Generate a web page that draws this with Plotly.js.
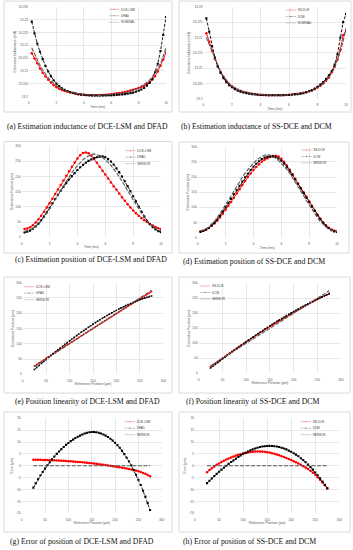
<!DOCTYPE html>
<html>
<head>
<meta charset="utf-8">
<script src="https://cdn.plot.ly/plotly-3.0.1.min.js"></script>
<style>
html,body{margin:0;padding:0;background:#ffffff;}
#chart{width:353px;height:550px;}
</style>
</head>
<body>
<div id="chart"></div>
<script>
// ---------------- DATA ----------------
var timeMs = [0.2,0.4,0.6,0.8,1.0,1.2,1.4,1.6,1.8,2.0,2.2,2.4,2.6,2.8,3.0,3.2,3.4,3.6,3.8,4.0,4.2,4.4,4.6,4.8,5.0,5.2,5.4,5.6,5.8,6.0,6.2,6.4,6.6,6.8,7.0,7.2,7.4,7.6,7.8,8.0,8.2,8.4,8.6,8.8,9.0,9.2,9.4,9.6,9.8,10.0];

// (a) inductance, DCE-LSM / DFAD / nominal
var indDceLsm = [13.2169,13.2149,13.2130,13.2110,13.2093,13.2079,13.2066,13.2055,13.2045,13.2037,13.2031,13.2026,13.2022,13.2019,13.2016,13.2014,13.2012,13.2010,13.2009,13.2008,13.2007,13.2006,13.2006,13.2006,13.2006,13.2007,13.2007,13.2008,13.2009,13.2010,13.2011,13.2013,13.2014,13.2016,13.2018,13.2021,13.2024,13.2027,13.2030,13.2034,13.2038,13.2043,13.2049,13.2057,13.2067,13.2080,13.2098,13.2120,13.2145,13.2172];
var indDfad = [13.2292,13.2246,13.2207,13.2175,13.2146,13.2120,13.2098,13.2080,13.2064,13.2051,13.2041,13.2033,13.2027,13.2022,13.2018,13.2015,13.2012,13.2010,13.2008,13.2007,13.2006,13.2005,13.2004,13.2004,13.2004,13.2004,13.2004,13.2004,13.2005,13.2005,13.2006,13.2007,13.2008,13.2009,13.2010,13.2012,13.2014,13.2016,13.2019,13.2023,13.2028,13.2034,13.2043,13.2053,13.2068,13.2095,13.2128,13.2178,13.2240,13.2310];
var indNominalA = [13.2190,13.2165,13.2142,13.2122,13.2104,13.2088,13.2074,13.2062,13.2052,13.2043,13.2036,13.2030,13.2025,13.2021,13.2018,13.2015,13.2013,13.2011,13.2009,13.2008,13.2007,13.2006,13.2006,13.2005,13.2005,13.2005,13.2006,13.2006,13.2007,13.2008,13.2009,13.2010,13.2011,13.2013,13.2015,13.2018,13.2021,13.2025,13.2029,13.2034,13.2040,13.2047,13.2055,13.2065,13.2077,13.2092,13.2109,13.2129,13.2158,13.2190];

// (b) inductance, SS-DCE / DCM / nominal
var indSsDce = [13.2214,13.2186,13.2156,13.2130,13.2107,13.2088,13.2072,13.2059,13.2049,13.2041,13.2035,13.2030,13.2026,13.2023,13.2021,13.2019,13.2017,13.2016,13.2015,13.2014,13.2013,13.2013,13.2012,13.2012,13.2012,13.2012,13.2012,13.2013,13.2013,13.2014,13.2015,13.2016,13.2017,13.2018,13.2020,13.2022,13.2025,13.2028,13.2032,13.2037,13.2043,13.2050,13.2059,13.2070,13.2087,13.2105,13.2128,13.2160,13.2207,13.2221];
var indDcm = [13.2262,13.2219,13.2172,13.2135,13.2106,13.2085,13.2068,13.2055,13.2045,13.2038,13.2032,13.2027,13.2024,13.2021,13.2019,13.2017,13.2016,13.2015,13.2014,13.2013,13.2013,13.2012,13.2012,13.2012,13.2012,13.2012,13.2012,13.2012,13.2013,13.2013,13.2014,13.2015,13.2016,13.2017,13.2019,13.2022,13.2025,13.2029,13.2034,13.2040,13.2047,13.2055,13.2065,13.2077,13.2091,13.2112,13.2145,13.2200,13.2250,13.2276];
var indNominalB = [13.2200,13.2178,13.2152,13.2128,13.2107,13.2089,13.2073,13.2060,13.2050,13.2042,13.2036,13.2031,13.2027,13.2024,13.2021,13.2019,13.2017,13.2016,13.2015,13.2014,13.2013,13.2013,13.2012,13.2012,13.2012,13.2012,13.2012,13.2013,13.2013,13.2014,13.2015,13.2016,13.2017,13.2018,13.2020,13.2022,13.2025,13.2028,13.2032,13.2037,13.2043,13.2050,13.2059,13.2070,13.2084,13.2102,13.2125,13.2153,13.2188,13.2230];

// (c)/(d) position vs time
var posDceLsm = [27,29,33,40,49,59,71,84,98,112,127,142,157,172,187,202,217,232,246,259,270,277,279,276,268,257,245,232,219,206,193,180,168,156,144,132,120,109,98,88,79,71,63,56,50,44,39,34,30,27];
var posDfad = [16,18,22,28,36,45,56,68,82,97,112,126,140,153,166,178,190,201,211,221,230,238,245,251,256,260,263,265,266,263,257,249,239,227,214,200,184,168,152,135,118,101,84,68,54,43,33,26,20,17];
var posSensorC = [20,21,24,29,36,44,54,66,79,93,108,123,139,155,170,185,199,213,225,236,246,255,262,268,272,274,272,268,262,255,246,236,225,213,199,185,170,155,139,123,108,93,79,66,54,44,36,29,24,21];
var posSsDce = [21,23,27,32,39,47,56,67,79,92,105,118,132,146,160,174,187,200,212,223,233,242,250,257,262,266,269,270,268,260,250,238,224,209,194,179,164,150,135,120,105,90,76,63,51,41,33,27,23,21];
var posDcm = [19,22,26,32,40,49,60,72,86,100,114,128,143,157,171,185,199,211,223,234,244,252,259,264,267,268,268,266,261,254,245,234,221,207,192,177,162,147,132,117,102,88,74,61,49,39,31,25,21,19];
var posSensorD = [21,24,29,36,44,54,66,79,93,108,123,139,155,170,185,199,213,225,236,246,255,262,268,272,274,272,268,262,255,246,236,225,213,199,185,170,155,139,123,108,93,79,66,54,44,36,29,24,21,20];

// (e)-(h) versus reference position
var refPos = [25,30,35,40,45,50,55,60,65,70,75,80,85,90,95,100,105,110,115,120,125,130,135,140,145,150,155,160,165,170,175,180,185,190,195,200,205,210,215,220,225,230,235,240,245,250,255,260,265,270,275];
var linDceLsm = [27.6,32.5,37.5,42.5,47.5,52.5,57.4,62.4,67.4,72.3,77.3,82.2,87.2,92.1,97.0,102.0,106.9,111.8,116.7,121.6,126.6,131.5,136.4,141.3,146.2,151.1,155.9,160.8,165.7,170.6,175.5,180.3,185.2,190.0,194.9,199.7,204.5,209.4,214.2,219.0,223.9,228.7,233.4,238.2,243.0,247.7,252.4,257.0,261.6,266.1,270.6];
var linDfad = [15.8,22.6,29.3,35.9,42.4,48.8,55.2,61.5,67.7,73.9,80.0,86.0,92.0,97.9,103.8,109.6,115.4,121.0,126.7,132.2,137.7,143.2,148.6,153.9,159.1,164.2,169.2,174.1,178.9,183.6,188.2,192.7,197.1,201.4,205.6,209.7,213.7,217.6,221.3,224.9,228.4,231.8,235.1,238.2,241.2,244.1,246.9,249.5,252.0,254.3,256.4];
var linSsDce = [22.3,28.2,34.0,39.7,45.4,51.0,56.6,62.1,67.6,73.1,78.5,83.9,89.3,94.6,99.9,105.2,110.4,115.6,120.8,125.9,131.0,136.1,141.1,146.0,150.9,155.8,160.6,165.3,170.1,174.8,179.4,184.1,188.7,193.3,197.9,202.4,207.0,211.5,216.0,220.4,224.9,229.3,233.6,237.9,242.1,246.2,250.2,254.1,258.0,261.8,265.5];
var linDcm = [17.7,23.7,29.7,35.7,41.6,47.5,53.4,59.2,65.0,70.8,76.6,82.3,88.0,93.7,99.4,105.0,110.5,116.0,121.5,126.9,132.3,137.6,142.9,148.1,153.3,158.4,163.4,168.4,173.3,178.1,182.9,187.6,192.3,196.9,201.4,205.9,210.3,214.7,219.0,223.2,227.4,231.5,235.5,239.5,243.4,247.2,251.0,254.7,258.4,262.0,265.5];
var errDceLsm = [2.55,2.54,2.53,2.51,2.49,2.46,2.43,2.40,2.36,2.32,2.27,2.22,2.16,2.10,2.03,1.96,1.89,1.81,1.73,1.64,1.55,1.46,1.36,1.26,1.16,1.05,0.94,0.82,0.70,0.58,0.45,0.31,0.17,0.02,-0.14,-0.30,-0.46,-0.63,-0.80,-0.97,-1.15,-1.35,-1.56,-1.79,-2.03,-2.30,-2.62,-2.98,-3.38,-3.86,-4.40];
var errDfad = [-9.2,-7.4,-5.7,-4.1,-2.6,-1.2,0.2,1.5,2.7,3.9,5.0,6.0,7.0,7.9,8.8,9.6,10.4,11.0,11.7,12.2,12.7,13.2,13.6,13.9,14.1,14.2,14.2,14.1,13.9,13.6,13.2,12.7,12.1,11.4,10.6,9.7,8.7,7.6,6.3,4.9,3.4,1.8,0.1,-1.8,-3.8,-5.9,-8.1,-10.5,-13.0,-15.7,-18.6];
var errSsDce = [-2.7,-1.8,-1.0,-0.3,0.4,1.0,1.6,2.1,2.6,3.1,3.5,3.9,4.3,4.6,4.9,5.2,5.4,5.6,5.8,5.9,6.0,6.05,6.05,6.0,5.9,5.75,5.55,5.3,5.05,4.75,4.4,4.05,3.7,3.3,2.85,2.4,1.95,1.45,0.95,0.4,-0.15,-0.75,-1.4,-2.1,-2.9,-3.8,-4.8,-5.9,-7.0,-8.2,-9.5];
var errDcm = [-7.3,-6.3,-5.3,-4.3,-3.4,-2.5,-1.6,-0.8,0.0,0.8,1.6,2.3,3.0,3.7,4.4,5.0,5.5,6.0,6.5,6.9,7.3,7.6,7.9,8.1,8.25,8.35,8.4,8.35,8.25,8.1,7.9,7.6,7.3,6.9,6.4,5.9,5.3,4.7,4.0,3.2,2.4,1.5,0.5,-0.5,-1.6,-2.8,-4.0,-5.3,-6.6,-8.0,-9.5];
var sensorRef = [25,275];
var sensorLin = [25,275];
var sensorErr = [0,0];

var captions = [
  "(a) Estimation inductance of DCE-LSM and DFAD",
  "(b) Estimation inductance of SS-DCE and DCM",
  "(c) Estimation position of DCE-LSM and DFAD",
  "(d) Estimation position of SS-DCE and DCM",
  "(e) Position linearity of DCE-LSM and DFAD",
  "(f) Position linearity of SS-DCE and DCM",
  "(g) Error of position of DCE-LSM and DFAD",
  "(h) Error of position of SS-DCE and DCM"
];

// ---------------- LAYOUT HELPERS ----------------
var W = 353, H = 550;
function fx(p){ return p / W; }
function fy(p){ return 1 - p / H; }

var GRID = '#d9d9d9', TXT = '#595959';
var SANS = 'Liberation Sans, Arial, sans-serif';
var LEG_SCALE = 0.34;

var panels = [
  {x0:29,   x1:166,   y0:6.7,   y1:96.7,  xr:[0,10],  xd:2,  yr:[13.2,13.235], yd:0.005, xt:'Time (ms)', yt:'Estimation Inductance (mH)', box:[4,1,172,112],   cap:[5,126.7],   leg:[121,9.3]},
  {x0:203.5,x1:346,   y0:6.7,   y1:99,    xr:[0,10],  xd:2,  yr:[13.2,13.23],  yd:0.005, xt:'Time (ms)', yt:'Estimation Inductance (mH)', box:[179,1,351,112], cap:[179,126.7], leg:[297.7,10]},
  {x0:21.7, x1:161,   y0:146,   y1:237.3, xr:[0,10],  xd:2,  yr:[0,300],       yd:50,    xt:'Time (ms)', yt:'Estimation Position (\u03bcm)', box:[4,141.5,172,253], cap:[13,260], leg:[137.3,150.7]},
  {x0:197.7,x1:337,   y0:146.7, y1:237.7, xr:[0,10],  xd:2,  yr:[0,300],       yd:50,    xt:'Time (ms)', yt:'Estimation Position (\u03bcm)', box:[179,142,349,253], cap:[181,261], leg:[313.3,150]},
  {x0:22.7, x1:163.3, y0:282.7, y1:374.3, xr:[0,300], xd:50, yr:[0,300],       yd:50,    xt:'Reference Position (\u03bcm)', yt:'Estimation Position (\u03bcm)', box:[4,277,172,393], cap:[13,401.7], leg:[36,286.7]},
  {x0:198.7,x1:341,   y0:283.3, y1:373.3, xr:[0,300], xd:50, yr:[0,300],       yd:50,    xt:'Reference Position (\u03bcm)', yt:'Estimation Position (\u03bcm)', box:[179,277,350,393], cap:[184,401], leg:[212,286]},
  {x0:21.7, x1:161.7, y0:418.3, y1:513.3, xr:[0,300], xd:50, yr:[-20,20],      yd:5,     xt:'Reference Position (\u03bcm)', yt:'Error (\u03bcm)', box:[4,412,172,532], cap:[8,541.7], leg:[136.7,421.7]},
  {x0:195,  x1:339.3, y0:418.3, y1:513.3, xr:[0,300], xd:50, yr:[-20,20],      yd:5,     xt:'Reference Position (\u03bcm)', yt:'Error (\u03bcm)', box:[179,412,350,532], cap:[181,541.7], leg:[312.7,421.7]}
];

var layout = {
  width: W, height: H,
  margin: {l:0, r:0, t:0, b:0, pad:0, autoexpand:false},
  paper_bgcolor: '#ffffff', plot_bgcolor: 'rgba(0,0,0,0)',
  showlegend: true,
  font: {family: SANS, color: TXT},
  shapes: [], annotations: []
};

panels.forEach(function(p, i){
  var n = i === 0 ? '' : String(i + 1);
  layout['xaxis' + n] = {
    domain: [fx(p.x0), fx(p.x1)], range: p.xr, dtick: p.xd, tick0: 0,
    anchor: 'y' + n, showgrid: true, gridcolor: GRID, gridwidth: 0.6,
    zeroline: false, showline: false, ticks: '', fixedrange: true,
    ticklabelstandoff: 3,
    tickfont: {size: 3.2, color: TXT, family: SANS},
    title: {text: p.xt, font: {size: 3.4, color: TXT, family: SANS}, standoff: 1}
  };
  layout['yaxis' + n] = {
    domain: [fy(p.y1), fy(p.y0)], range: p.yr, dtick: p.yd, tick0: 0,
    anchor: 'x' + n, showgrid: true, gridcolor: GRID, gridwidth: 0.6,
    zeroline: false, showline: false, ticks: '', fixedrange: true,
    tickfont: {size: 3.2, color: TXT, family: SANS},
    title: {text: p.yt, font: {size: 3.4, color: TXT, family: SANS}, standoff: 2}
  };
  var lid = i === 0 ? 'legend' : 'legend' + (i + 1);
  layout[lid] = {
    x: fx(p.leg[0] - 40 * LEG_SCALE), y: fy(p.leg[1] - 14.5 * LEG_SCALE),
    xanchor: 'left', yanchor: 'top', bgcolor: 'rgba(0,0,0,0)', borderwidth: 0,
    font: {size: 9, family: SANS, color: '#404040'}, itemwidth: 30, tracegroupgap: 0
  };
  layout.shapes.push({type:'rect', xref:'paper', yref:'paper',
    x0: fx(p.box[0]), x1: fx(p.box[2]), y0: fy(p.box[3]), y1: fy(p.box[1]),
    line: {color: '#d0d0d0', width: 0.8}, layer: 'below'});
  layout.annotations.push({xref:'paper', yref:'paper', x: fx(p.cap[0]), y: fy(p.cap[1]),
    xanchor:'left', yanchor:'middle', showarrow:false, text: captions[i],
    font: {family: 'Liberation Serif, Times New Roman, serif', size: 7.8, color: '#111111'}});
});

function mk(x, y, name, i, kind, msize){
  var n = i === 0 ? '' : String(i + 1);
  var t = {x: x, y: y, name: name, type: 'scatter',
    xaxis: 'x' + n, yaxis: 'y' + n, legend: i === 0 ? 'legend' : 'legend' + (i + 1)};
  if (kind === 'red') {
    t.mode = 'lines+markers';
    t.line = {color: '#ff0000', width: 0.9};
    t.marker = {symbol: 'circle', size: msize || 2.5, color: '#ff0000'};
  } else if (kind === 'black') {
    t.mode = 'lines+markers';
    t.line = {color: '#000000', width: 0.9, dash: '3px,1.5px'};
    t.marker = {symbol: 'square', size: msize || 2.1, color: '#000000'};
  } else {
    t.mode = 'lines';
    t.line = {color: '#555555', width: 1.1, dash: '4px,1.5px'};
  }
  return t;
}

var data = [
  mk(timeMs, indDceLsm, 'DCE-LSM', 0, 'red'),
  mk(timeMs, indDfad, 'DFAD', 0, 'black'),
  mk(timeMs, indNominalA, 'NOMINAL', 0, 'gray'),
  mk(timeMs, indSsDce, 'SS-DCE', 1, 'red'),
  mk(timeMs, indDcm, 'DCM', 1, 'black'),
  mk(timeMs, indNominalB, 'NOMINAL', 1, 'gray'),
  mk(timeMs, posDceLsm, 'DCE-LSM', 2, 'red'),
  mk(timeMs, posDfad, 'DFAD', 2, 'black'),
  mk(timeMs, posSensorC, 'SENSOR', 2, 'gray'),
  mk(timeMs, posSsDce, 'SS-DCE', 3, 'red'),
  mk(timeMs, posDcm, 'DCM', 3, 'black'),
  mk(timeMs, posSensorD, 'SENSOR', 3, 'gray'),
  mk(refPos, linDceLsm, 'DCE-LSM', 4, 'red', 1.8),
  mk(refPos, linDfad, 'DFAD', 4, 'black', 1.6),
  mk(sensorRef, sensorLin, 'SENSOR', 4, 'gray'),
  mk(refPos, linSsDce, 'SS-DCE', 5, 'red', 1.8),
  mk(refPos, linDcm, 'DCM', 5, 'black', 1.6),
  mk(sensorRef, sensorLin, 'SENSOR', 5, 'gray'),
  mk(refPos, errDceLsm, 'DCE-LSM', 6, 'red'),
  mk(refPos, errDfad, 'DFAD', 6, 'black'),
  mk(sensorRef, sensorErr, 'SENSOR', 6, 'gray'),
  mk(refPos, errSsDce, 'SS-DCE', 7, 'red'),
  mk(refPos, errDcm, 'DCM', 7, 'black'),
  mk(sensorRef, sensorErr, 'SENSOR', 7, 'gray')
];

Plotly.newPlot('chart', data, layout, {staticPlot: true, displayModeBar: false}).then(function(gd){
  // shrink the legend boxes to the compact size of the original figure
  for (var i = 0; i < 8; i++) {
    var id = i === 0 ? 'legend' : 'legend' + (i + 1);
    var g = gd.querySelector('g.' + id);
    if (!g) continue;
    var tr = g.getAttribute('transform') || '';
    g.setAttribute('transform', tr + ' scale(' + LEG_SCALE + ')');
  }
});
</script>
</body>
</html>
